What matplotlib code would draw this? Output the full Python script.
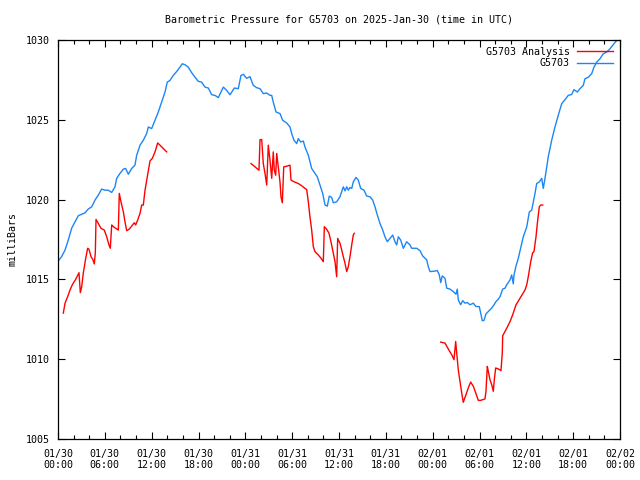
import matplotlib
matplotlib.use("Agg")
import matplotlib.pyplot as plt
import numpy as np

# Hours since 2025-01-30 00:00 UTC
blue_t = [0.04, 0.47, 0.90, 1.32, 1.76, 2.18, 2.60, 3.46, 3.88, 4.32, 4.74, 5.16, 5.60, 6.02, 6.44,
          6.88, 7.30, 7.52, 7.94, 8.37, 8.67, 9.01, 9.44, 9.86, 10.08, 10.51, 10.93, 11.36, 11.57,
          12.00, 12.43, 12.85, 13.28, 13.71, 14.00, 14.35, 14.77, 15.21, 15.63, 15.92, 16.27,
          16.69, 17.13, 17.55, 17.97, 18.41, 18.83, 19.26, 19.69, 20.11, 20.54, 20.97, 21.18,
          21.61, 22.04, 22.59, 23.10, 23.44, 23.74, 24.17, 24.60, 25.02, 25.46, 25.88, 26.30,
          26.74, 27.16, 27.38, 27.58, 27.93, 28.44, 28.78, 29.30, 29.72, 29.94, 30.23, 30.58,
          30.78, 31.09, 31.43, 31.64, 32.07, 32.50, 32.92, 33.22, 33.57, 33.91, 34.21, 34.50,
          34.76, 35.06, 35.27, 35.70, 36.13, 36.55, 36.77, 36.99, 37.19, 37.41, 37.63, 37.83,
          38.18, 38.47, 38.78, 39.20, 39.55, 39.97, 40.32, 40.61, 40.91, 41.25, 41.60, 41.89,
          42.19, 42.53, 42.88, 43.17, 43.39, 43.60, 43.90, 44.24, 44.67, 45.10, 45.31, 45.95,
          46.38, 46.72, 47.24, 47.44, 47.66, 48.30, 48.59, 48.85, 49.03, 49.23, 49.58, 49.80,
          50.22, 50.64, 50.99, 51.15, 51.28, 51.59, 51.85, 52.14, 52.44, 52.78, 53.21, 53.55,
          53.97, 54.15, 54.36, 54.58, 54.83, 55.25, 55.56, 55.86, 56.11, 56.41, 56.63, 56.97,
          57.27, 57.48, 57.91, 58.12, 58.33, 58.42, 58.68, 58.97, 59.28, 59.61, 60.05, 60.38,
          60.69, 61.11, 61.33, 61.66, 61.97, 62.17, 62.39, 62.81, 63.25, 63.67, 64.09, 64.53,
          64.95, 65.37, 65.81, 66.10, 66.53, 66.87, 67.30, 67.51, 67.94, 68.37, 68.67, 69.01,
          69.44, 69.86, 70.29, 70.72, 71.06, 71.49, 71.78]
blue_p = [1016.16, 1016.43, 1016.84, 1017.47, 1018.22, 1018.61, 1018.99, 1019.17, 1019.41, 1019.55,
          1019.97, 1020.28, 1020.66, 1020.59, 1020.59, 1020.45, 1020.80, 1021.33, 1021.64, 1021.91,
          1021.95, 1021.59, 1021.95, 1022.16, 1022.78, 1023.41, 1023.72, 1024.14, 1024.55, 1024.45,
          1024.97, 1025.49, 1026.11, 1026.74, 1027.36, 1027.47, 1027.78, 1028.03, 1028.30, 1028.51,
          1028.45, 1028.30, 1027.95, 1027.67, 1027.41, 1027.36, 1027.05, 1026.99, 1026.57, 1026.53,
          1026.39, 1026.84, 1027.05, 1026.84, 1026.57, 1026.99, 1026.95, 1027.78, 1027.85, 1027.60,
          1027.70, 1027.16, 1027.01, 1026.95, 1026.64, 1026.68, 1026.53, 1026.53, 1026.11, 1025.49,
          1025.39, 1024.97, 1024.80, 1024.55, 1024.14, 1023.72, 1023.51, 1023.82, 1023.61, 1023.67,
          1023.30, 1022.78, 1021.95, 1021.64, 1021.43, 1020.91, 1020.39, 1019.66, 1019.59, 1020.22,
          1020.14, 1019.80, 1019.86, 1020.18, 1020.80, 1020.55, 1020.80, 1020.59, 1020.76, 1020.70,
          1021.11, 1021.39, 1021.22, 1020.70, 1020.59, 1020.22, 1020.18, 1019.97, 1019.55, 1019.03,
          1018.51, 1018.09, 1017.67, 1017.36, 1017.57, 1017.78, 1017.36, 1017.16, 1017.67, 1017.47,
          1016.95, 1017.36, 1017.16, 1016.95, 1016.95, 1016.80, 1016.47, 1016.22, 1015.80, 1015.49,
          1015.52, 1015.56, 1015.28, 1014.80, 1015.22, 1015.07, 1014.45, 1014.39, 1014.24, 1014.07,
          1014.39, 1013.72, 1013.41, 1013.67, 1013.51, 1013.55, 1013.41, 1013.51, 1013.30, 1013.30,
          1012.89, 1012.41, 1012.43, 1012.84, 1013.05, 1013.20, 1013.41, 1013.61, 1013.76, 1013.92,
          1014.39, 1014.45, 1014.66, 1014.97, 1015.28, 1014.72, 1015.28, 1015.84, 1016.32, 1016.97,
          1017.67, 1018.28, 1019.22, 1019.34, 1020.39, 1021.01, 1021.11, 1021.33, 1020.70, 1021.33,
          1022.68, 1023.72, 1024.55, 1025.28, 1026.01, 1026.26, 1026.53, 1026.59, 1026.89, 1026.74,
          1026.95, 1027.16, 1027.57, 1027.67, 1027.89, 1028.30, 1028.61, 1028.83, 1029.14, 1029.24,
          1029.45, 1029.66, 1029.93, 1030.00]

red_t1 = [0.68, 0.90, 1.24, 1.54, 1.83, 2.27, 2.69, 2.86, 3.04, 3.24, 3.55, 3.80, 3.97, 4.23, 4.45,
          4.65, 4.78, 4.87, 5.16, 5.51, 5.93, 6.24, 6.53, 6.70, 6.88, 7.21, 7.73, 7.85, 8.07, 8.37,
          8.58, 8.80, 9.10, 9.44, 9.77, 9.95, 10.21, 10.51, 10.72, 10.93, 11.15, 11.44, 11.79,
          12.08, 12.43, 12.77, 13.07, 13.49, 13.93]
red_p1 = [1012.89, 1013.51, 1013.92, 1014.34, 1014.66, 1015.01, 1015.42, 1014.17, 1014.55, 1015.39,
          1016.32, 1016.95, 1016.89, 1016.42, 1016.26, 1015.97, 1016.64, 1018.76, 1018.51, 1018.20,
          1018.09, 1017.67, 1017.16, 1016.95, 1018.41, 1018.26, 1018.09, 1020.39, 1019.86, 1019.24,
          1018.61, 1018.05, 1018.14, 1018.34, 1018.55, 1018.41, 1018.72, 1019.14, 1019.66, 1019.66,
          1020.59, 1021.43, 1022.43, 1022.58, 1022.99, 1023.55, 1023.41, 1023.20, 1022.99]

red_t2 = [24.73, 25.15, 25.75, 25.88, 26.10, 26.30, 26.52, 26.74, 26.94, 27.16, 27.38, 27.58, 27.71,
          27.89, 28.02, 28.22, 28.44, 28.57, 28.74, 28.92, 29.30, 29.72, 29.85, 30.27, 30.78, 31.30,
          31.64, 31.86, 32.07, 32.28, 32.50, 32.71, 32.92, 33.35, 33.69, 33.99, 34.12, 34.42, 34.72,
          34.97, 35.27, 35.49, 35.70, 35.83, 36.13, 36.35, 36.55, 36.77, 36.99, 37.19, 37.41, 37.63,
          37.83, 37.96]
red_p2 = [1022.26, 1022.09, 1021.84, 1023.76, 1023.76, 1022.26, 1021.64, 1020.91, 1023.41, 1022.47,
          1021.33, 1022.99, 1021.84, 1021.53, 1022.89, 1022.05, 1021.11, 1020.17, 1019.80, 1022.05,
          1022.09, 1022.16, 1021.22, 1021.11, 1021.01, 1020.84, 1020.70, 1020.64, 1019.86, 1018.92,
          1018.09, 1017.05, 1016.74, 1016.53, 1016.33, 1016.11, 1018.30, 1018.14, 1017.89, 1017.36,
          1016.64, 1016.11, 1015.17, 1017.57, 1017.26, 1016.84, 1016.43, 1016.01, 1015.49, 1015.80,
          1016.43, 1017.16, 1017.78, 1017.89]

red_t3 = [49.03, 49.58, 50.00, 50.44, 50.73, 50.95, 51.08, 51.28, 51.50, 51.72, 51.92, 52.27, 52.56,
          52.87, 53.21, 53.55, 53.85, 54.15, 54.70, 54.83, 55.00, 55.13, 55.34, 55.56, 55.77, 55.90,
          56.07, 56.41, 56.75, 56.92, 56.97, 57.27, 57.56, 57.91, 58.25, 58.68, 59.19, 59.83, 60.05,
          60.25, 60.56, 60.81, 60.98, 61.24, 61.41, 61.66, 61.84, 62.10]
red_p3 = [1011.07, 1011.01, 1010.64, 1010.28, 1009.97, 1011.11, 1010.39, 1009.34, 1008.61, 1007.89,
          1007.30, 1007.78, 1008.20, 1008.57, 1008.30, 1007.84, 1007.42, 1007.42, 1007.51, 1007.99,
          1009.55, 1009.24, 1008.72, 1008.41, 1007.99, 1008.72, 1009.45, 1009.39, 1009.28, 1010.39,
          1011.47, 1011.74, 1012.01, 1012.36, 1012.78, 1013.41, 1013.82, 1014.34, 1014.66, 1015.17,
          1016.11, 1016.67, 1016.74, 1017.67, 1018.51, 1019.55, 1019.66, 1019.66]

tick_hours = [0, 6, 12, 18, 24, 30, 36, 42, 48, 54, 60, 66, 72]
tick_labels = ["01/30\n00:00", "01/30\n06:00", "01/30\n12:00", "01/30\n18:00",
               "01/31\n00:00", "01/31\n06:00", "01/31\n12:00", "01/31\n18:00",
               "02/01\n00:00", "02/01\n06:00", "02/01\n12:00", "02/01\n18:00",
               "02/02\n00:00"]
y_ticks = [1005, 1010, 1015, 1020, 1025, 1030]

RED = "#ff0000"
BLUE = "#1c86f5"
FONT = "DejaVu Sans Mono"
FS = 7.2

plt.rcParams["font.family"] = FONT
plt.rcParams["font.size"] = FS

fig = plt.figure(figsize=(6.4, 4.8), dpi=100)
ax = fig.add_axes([58 / 640, 1 - 439 / 480, 562 / 640, 399 / 480])

ax.plot(red_t1, red_p1, color=RED, lw=1.0, label="G5703 Analysis")
ax.plot(red_t2, red_p2, color=RED, lw=1.0)
ax.plot(red_t3, red_p3, color=RED, lw=1.0)
ax.plot(blue_t, blue_p, color=BLUE, lw=1.0, label="G5703")

ax.set_xlim(0, 72)
ax.set_ylim(1005, 1030)
ax.set_xticks(tick_hours)
ax.set_xticklabels(tick_labels)
ax.set_xticks(np.arange(0, 73, 2), minor=True)
ax.set_yticks(y_ticks)
ax.set_yticklabels([str(v) for v in y_ticks])

ax.tick_params(axis="both", which="both", direction="in", top=True, right=True,
               colors="black", width=0.8)
ax.tick_params(axis="both", which="major", length=5, labelsize=FS)
ax.tick_params(axis="x", which="minor", length=3)
ax.tick_params(axis="x", which="major", pad=7)
ax.tick_params(axis="y", which="major", pad=6)
for s in ax.spines.values():
    s.set_linewidth(0.9)
    s.set_color("black")

ax.set_ylabel("milliBars", fontsize=FS, labelpad=6)
fig.text(339 / 640, 1 - 19 / 480, "Barometric Pressure for G5703 on 2025-Jan-30 (time in UTC)",
         ha="center", va="center", fontsize=FS)

leg = ax.legend(loc="upper right", frameon=False, markerfirst=False, fontsize=FS,
                handlelength=3.6, handletextpad=0.7, borderpad=0.3, labelspacing=0.15,
                borderaxespad=0.4)

fig.savefig("out.png", dpi=100)
